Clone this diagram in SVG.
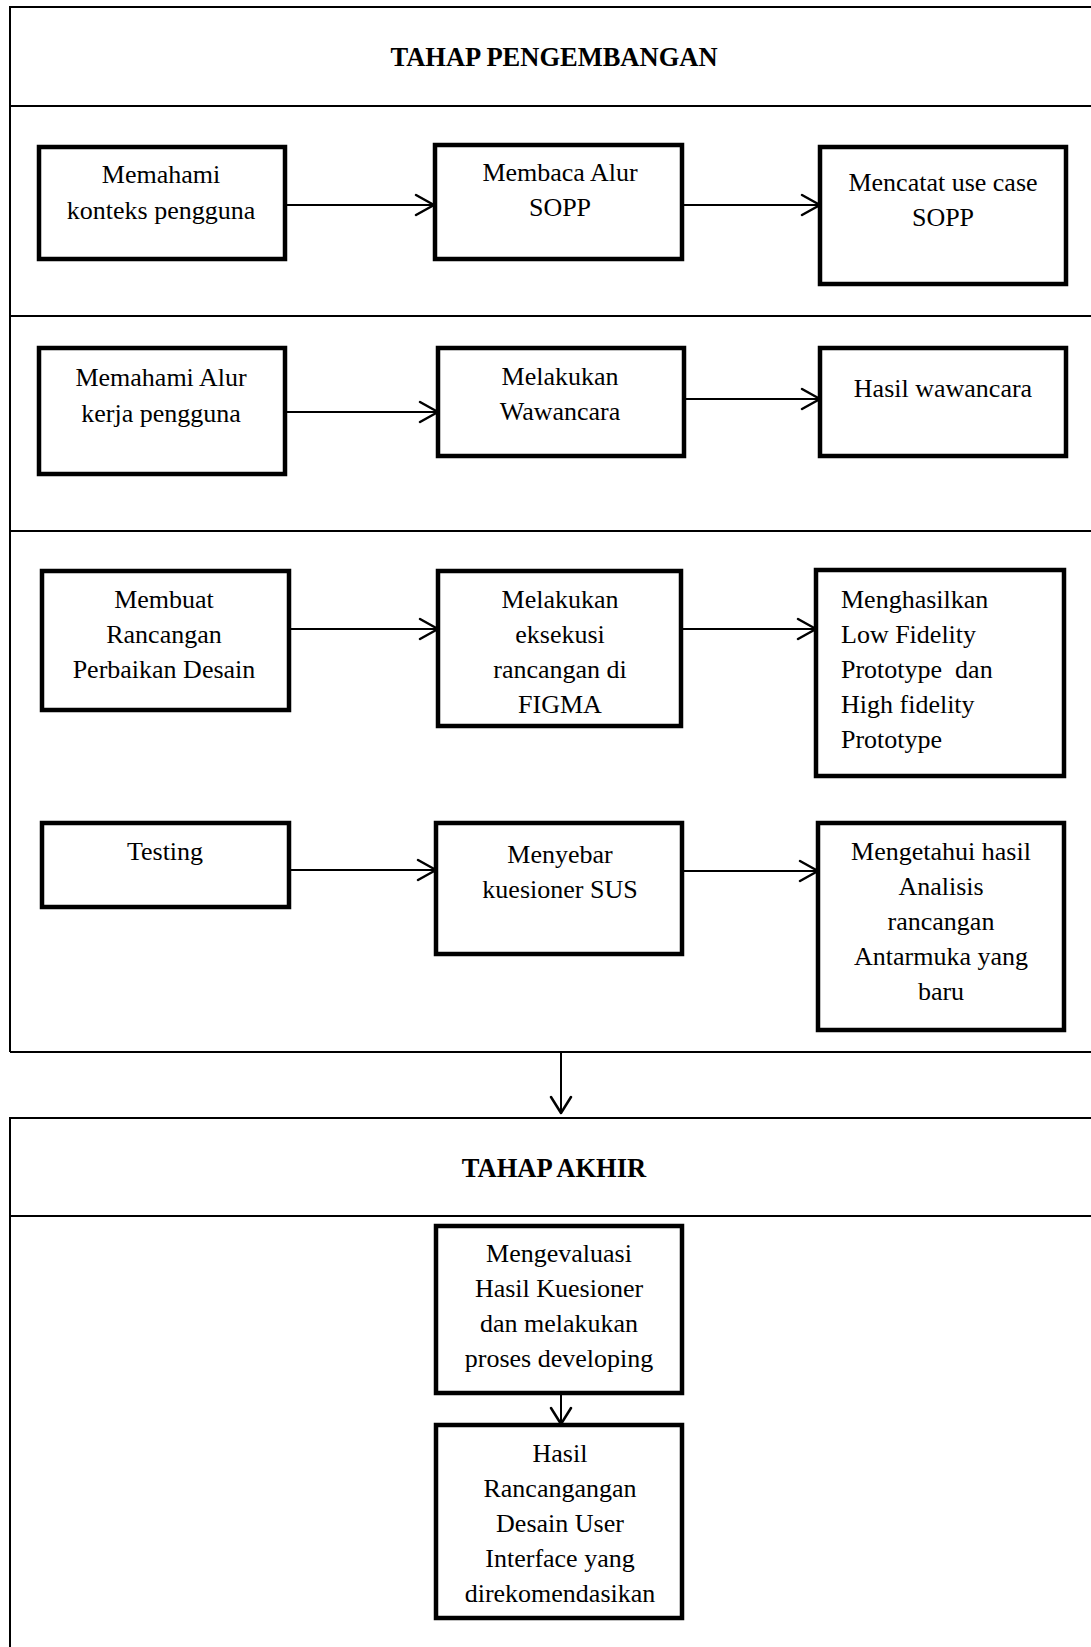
<svg xmlns="http://www.w3.org/2000/svg" width="1091" height="1647" viewBox="0 0 1091 1647">
  <defs>
    <style>
      .frame { fill: none; stroke: #000; stroke-width: 2; }
      .box { fill: #fff; stroke: #000; stroke-width: 4.5; }
      .link { fill: none; stroke: #000; stroke-width: 2; }
      .head { fill: none; stroke: #000; stroke-width: 2.5; stroke-linecap: round; stroke-linejoin: round; }
      .label { font-family: "Liberation Serif", "Times New Roman", serif; font-size: 26px; fill: #000; text-anchor: middle; }
      .left { text-anchor: start; }
      .title { font-family: "Liberation Serif", "Times New Roman", serif; font-size: 26.5px; font-weight: bold; fill: #000; text-anchor: middle; }
    </style>
  </defs>
  <rect width="1091" height="1647" fill="#fff"/>

  <!-- stage frames -->
  <g id="frames">
    <path class="frame" d="M10,1647 V1118 H1091 M10,1052 V7 H1091 M10,106 H1091 M10,316 H1091 M10,531 H1091 M10,1052 H1091 M10,1216 H1091"/>
    <text class="title" x="554" y="66">TAHAP PENGEMBANGAN</text>
    <text class="title" x="554" y="1177">TAHAP AKHIR</text>
  </g>

  <!-- connectors -->
  <g id="connectors">
    <path class="link" d="M285,205 H433 M682,205 H818 M285,412 H436 M684,399 H818 M289,629 H436 M681,629 H814 M289,870 H434 M682,871 H816 M561,1052 V1112 M561,1393 V1422"/>
    <path class="head" d="M416,195 L434,205 L416,215 M802,195 L820,205 L802,215 M420,402 L438,412 L420,422 M802,389 L820,399 L802,409 M420,619 L438,629 L420,639 M798,619 L816,629 L798,639 M418,860 L436,870 L418,880 M800,861 L818,871 L800,881 M551,1097 L561,1113 L571,1097 M551,1408 L561,1424 L571,1408"/>
  </g>

  <g id="node-konteks">
    <rect class="box" x="39" y="147" width="246" height="112"/>
    <text class="label" x="161" y="183">Memahami</text>
    <text class="label" x="161" y="219">konteks pengguna</text>
  </g>
  <g id="node-alur-sopp">
    <rect class="box" x="435" y="145" width="247" height="114"/>
    <text class="label" x="560" y="181">Membaca Alur</text>
    <text class="label" x="560" y="216">SOPP</text>
  </g>
  <g id="node-use-case">
    <rect class="box" x="820" y="147" width="246" height="137"/>
    <text class="label" x="943" y="191">Mencatat use case</text>
    <text class="label" x="943" y="226">SOPP</text>
  </g>

  <g id="node-alur-kerja">
    <rect class="box" x="39" y="348" width="246" height="126"/>
    <text class="label" x="161" y="386">Memahami Alur</text>
    <text class="label" x="161" y="422">kerja pengguna</text>
  </g>
  <g id="node-wawancara">
    <rect class="box" x="438" y="348" width="246" height="108"/>
    <text class="label" x="560" y="385">Melakukan</text>
    <text class="label" x="560" y="420">Wawancara</text>
  </g>
  <g id="node-hasil-wawancara">
    <rect class="box" x="820" y="348" width="246" height="108"/>
    <text class="label" x="943" y="397">Hasil wawancara</text>
  </g>

  <g id="node-rancangan">
    <rect class="box" x="42" y="571" width="247" height="139"/>
    <text class="label" x="164" y="608">Membuat</text>
    <text class="label" x="164" y="643">Rancangan</text>
    <text class="label" x="164" y="678">Perbaikan Desain</text>
  </g>
  <g id="node-figma">
    <rect class="box" x="438" y="571" width="243" height="155"/>
    <text class="label" x="560" y="608">Melakukan</text>
    <text class="label" x="560" y="643">eksekusi</text>
    <text class="label" x="560" y="678">rancangan di</text>
    <text class="label" x="560" y="713">FIGMA</text>
  </g>
  <g id="node-prototype">
    <rect class="box" x="816" y="570" width="248" height="206"/>
    <text class="label left" x="841" y="608">Menghasilkan</text>
    <text class="label left" x="841" y="643">Low Fidelity</text>
    <text class="label left" x="841" y="678" xml:space="preserve">Prototype  dan</text>
    <text class="label left" x="841" y="713">High fidelity</text>
    <text class="label left" x="841" y="748">Prototype</text>
  </g>

  <g id="node-testing">
    <rect class="box" x="42" y="823" width="247" height="84"/>
    <text class="label" x="165" y="860">Testing</text>
  </g>
  <g id="node-kuesioner">
    <rect class="box" x="436" y="823" width="246" height="131"/>
    <text class="label" x="560" y="863">Menyebar</text>
    <text class="label" x="560" y="898">kuesioner SUS</text>
  </g>
  <g id="node-analisis">
    <rect class="box" x="818" y="823" width="246" height="207"/>
    <text class="label" x="941" y="860">Mengetahui hasil</text>
    <text class="label" x="941" y="895">Analisis</text>
    <text class="label" x="941" y="930">rancangan</text>
    <text class="label" x="941" y="965">Antarmuka yang</text>
    <text class="label" x="941" y="1000">baru</text>
  </g>

  <g id="node-evaluasi">
    <rect class="box" x="436" y="1226" width="246" height="167"/>
    <text class="label" x="559" y="1262">Mengevaluasi</text>
    <text class="label" x="559" y="1297">Hasil Kuesioner</text>
    <text class="label" x="559" y="1332">dan melakukan</text>
    <text class="label" x="559" y="1367">proses developing</text>
  </g>
  <g id="node-hasil-rancangan">
    <rect class="box" x="436" y="1425" width="246" height="193"/>
    <text class="label" x="560" y="1462">Hasil</text>
    <text class="label" x="560" y="1497">Rancangangan</text>
    <text class="label" x="560" y="1532">Desain User</text>
    <text class="label" x="560" y="1567">Interface yang</text>
    <text class="label" x="560" y="1602">direkomendasikan</text>
  </g>
</svg>
